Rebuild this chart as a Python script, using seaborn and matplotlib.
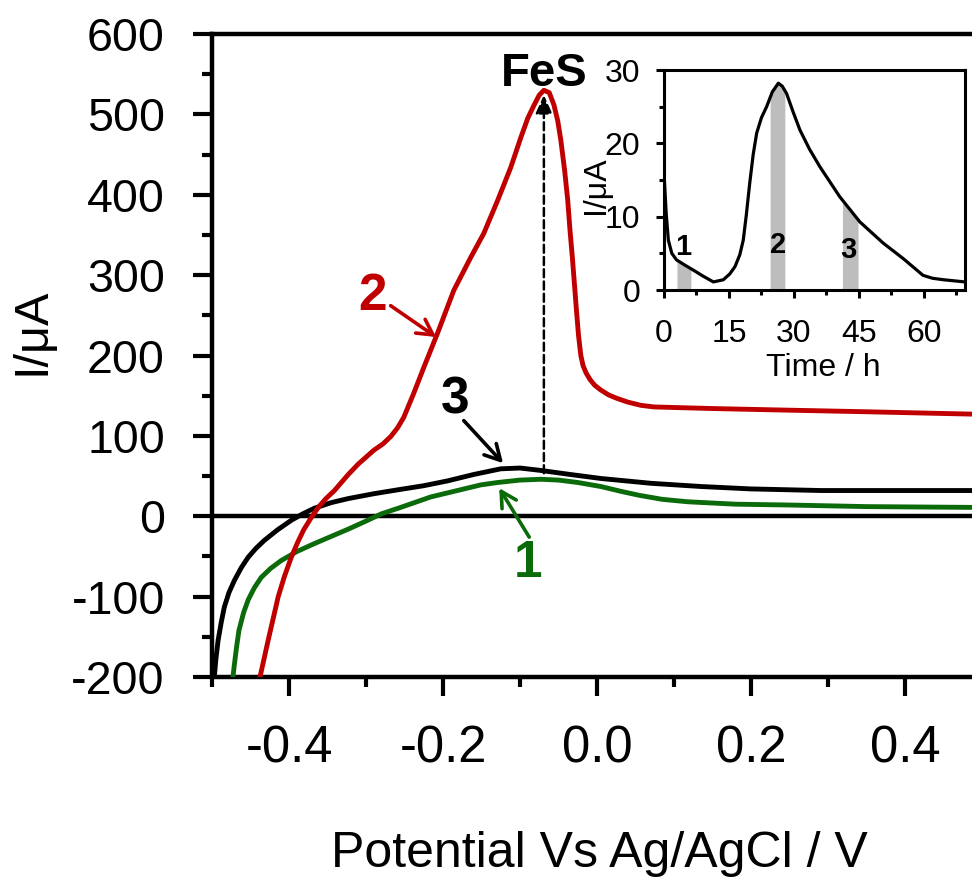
import numpy as np
import pandas as pd
import matplotlib
matplotlib.use("Agg")
import matplotlib.pyplot as plt
from matplotlib.ticker import MultipleLocator, FormatStrFormatter
import seaborn as sns

# ---------------- data ----------------
# scan 1 (green)
v_scan1 = [-0.474, -0.471, -0.468, -0.465, -0.459, -0.453, -0.445, -0.436, -0.424, -0.410,
           -0.390, -0.367, -0.345, -0.323, -0.300, -0.280, -0.255, -0.216, -0.190, -0.151,
           -0.129, -0.100, -0.073, -0.050, -0.025, 0.005, 0.031, 0.055, 0.085, 0.118,
           0.180, 0.248, 0.350, 0.490]
i_scan1 = [-210, -185, -162, -142, -120, -104, -89, -76, -65, -55,
           -44, -34, -25, -16, -6, 3, 11, 24, 30, 39,
           42, 45, 46, 45, 42, 37, 31, 26, 21, 18,
           15, 14, 12, 11]

# scan 2 (red)
v_scan2 = [-0.440, -0.433, -0.427, -0.420, -0.414, -0.406, -0.397, -0.389, -0.381, -0.372,
           -0.362, -0.352, -0.341, -0.323, -0.310, -0.290, -0.278, -0.268, -0.259, -0.251,
           -0.238, -0.225, -0.207, -0.186, -0.164, -0.147, -0.129, -0.112, -0.099, -0.090,
           -0.082, -0.075, -0.069, -0.062, -0.056, -0.051, -0.047, -0.042, -0.038, -0.035,
           -0.032, -0.029, -0.027, -0.024, -0.021, -0.018, -0.014, -0.009, -0.003, 0.005,
           0.015, 0.025, 0.040, 0.057, 0.074, 0.150, 0.248, 0.350, 0.490]
i_scan2 = [-210, -180, -154, -125, -100, -75, -51, -33, -17, -3,
           11, 22, 32, 52, 65, 82, 90, 99, 110, 123,
           153, 185, 228, 281, 322, 352, 393, 434, 471, 495,
           511, 524, 530, 527, 512, 492, 468, 430, 393, 355,
           322, 285, 260, 225, 200, 187, 178, 170, 163, 157,
           151, 147, 142, 138, 136, 134, 132, 130, 127]

# scan 3 (black)
v_scan3 = [-0.4985, -0.497, -0.495, -0.492, -0.488, -0.484, -0.478, -0.471, -0.462, -0.453,
           -0.443, -0.432, -0.415, -0.397, -0.382, -0.367, -0.345, -0.323, -0.290, -0.258,
           -0.225, -0.194, -0.160, -0.140, -0.125, -0.100, -0.073, -0.035, 0.005, 0.070,
           0.135, 0.200, 0.291, 0.400, 0.490]
i_scan3 = [-210, -200, -178, -154, -132, -113, -95, -80, -64, -51,
           -40, -30, -17, -5, 3, 10, 17, 22, 28, 33,
           38, 44, 52, 56, 59, 60, 57, 52, 47, 41,
           37, 34, 32, 32, 32]

# inset: current vs time
t_inset = [0, 0.5, 1.0, 1.8, 2.9, 4.8, 6.8, 9.0, 11.4, 13.7, 15.2, 16.4, 17.5, 18.3, 19.0,
           19.8, 20.6, 21.4, 22.5, 23.7, 25.0, 26.4, 27.3, 28.3, 29.8, 31.4, 33.6, 36.0,
           40.6, 45.2, 50.6, 55.2, 59.8, 62.0, 64.5, 69.5]
i_inset = [16, 10.5, 6.8, 5.0, 4.1, 3.4, 2.7, 1.9, 1.1, 1.4, 2.2, 3.2, 4.8, 6.8, 10.2,
           14.6, 18.5, 21.4, 23.5, 25.0, 27.0, 28.2, 27.8, 26.8, 24.3, 21.8, 19.2, 16.8,
           12.7, 9.3, 6.4, 4.3, 2.0, 1.6, 1.4, 1.1]
shade_windows = [(3.0, 6.2), (24.5, 27.9), (41.2, 44.8)]
shade_labels = ["1", "2", "3"]
shade_label_pos = [(4.4, 4.8), (26.3, 5.0), (42.5, 4.4)]

x_major = [-0.4, -0.2, 0.0, 0.2, 0.4]

# ---------------- style ----------------
sns.set_theme(style="ticks")
plt.rcParams["font.family"] = ["Liberation Sans", "DejaVu Sans"]
plt.rcParams["axes.unicode_minus"] = False
for k in ["text.color", "axes.labelcolor", "xtick.color", "ytick.color", "axes.edgecolor"]:
    plt.rcParams[k] = "black"

RED = "#c00000"
GREEN = "#0b6b0b"
W, H = 972, 880

fig = plt.figure(figsize=(9.72, 8.8), dpi=100)
fig.patch.set_facecolor("white")

def fx(px):
    return px / W

def fy(py):
    return 1 - py / H

ax = fig.add_axes([fx(212), fy(677), 1 - fx(212), (677 - 34) / H])
ax.set_facecolor("white")

df = pd.concat([
    pd.DataFrame({"V": v_scan1, "I": i_scan1, "scan": "1"}),
    pd.DataFrame({"V": v_scan3, "I": i_scan3, "scan": "3"}),
    pd.DataFrame({"V": v_scan2, "I": i_scan2, "scan": "2"}),
])

ax.axhline(0, color="black", lw=3.2, zorder=1.5)
sns.lineplot(data=df, x="V", y="I", hue="scan", hue_order=["1", "3", "2"],
             palette={"1": GREEN, "3": "black", "2": RED},
             sort=False, estimator=None, linewidth=3.5, legend=False, ax=ax, zorder=3)
for ln in ax.lines:
    ln.set_solid_joinstyle("round")
    ln.set_solid_capstyle("round")

ax.set_xlim(-0.5, -0.5 + 760 / 770)
ax.set_ylim(-200, 600)
ax.set_xlabel("")
ax.set_ylabel("")
ax.xaxis.set_major_locator(plt.FixedLocator(x_major))
ax.xaxis.set_minor_locator(MultipleLocator(0.1))
ax.yaxis.set_major_locator(MultipleLocator(100))
ax.yaxis.set_minor_locator(MultipleLocator(50))
ax.xaxis.set_major_formatter(FormatStrFormatter("%.1f"))
ax.yaxis.set_major_formatter(FormatStrFormatter("%d"))
for s in ["left", "bottom", "top"]:
    ax.spines[s].set_linewidth(3.2)
    ax.spines[s].set_color("black")
ax.spines["right"].set_visible(False)
ax.tick_params(which="both", direction="out", top=False, right=False, color="black", width=3.0,
               labelcolor="black")
ax.tick_params(which="major", length=14)
ax.tick_params(which="minor", length=7)
ax.tick_params(axis="x", which="major", labelsize=36.5, pad=20)
ax.tick_params(axis="y", which="major", labelsize=33.5, pad=20)

fig.text(fx(32), fy(331), "I/μA", rotation=90, ha="center", va="center", fontsize=35, color="black")
fig.text(fx(599), fy(867), "Potential Vs Ag/AgCl / V", ha="center", va="baseline", fontsize=36,
         color="black")

# annotations
ax.text(-0.069, 535, "FeS", ha="center", va="baseline", fontsize=34, fontweight="bold", color="black")
ax.annotate("", xy=(-0.069, 524), xytext=(-0.069, 53.5),
            arrowprops=dict(arrowstyle="-|>,head_length=0.55,head_width=0.25",
                            mutation_scale=20, lw=1.8, ls=(0, (3.2, 1.7)),
                            color="black", fc="black", shrinkA=0, shrinkB=0))

ax.text(-0.291, 256, "2", color=RED, ha="center", va="baseline", fontsize=37, fontweight="bold")
ax.annotate("", xy=(-0.209, 223), xytext=(-0.268, 262),
            arrowprops=dict(arrowstyle="->,head_length=0.55,head_width=0.3",
                            mutation_scale=20, lw=2.6, color=RED, shrinkA=0, shrinkB=0))
ax.text(-0.184, 128, "3", color="black", ha="center", va="baseline", fontsize=37, fontweight="bold")
ax.annotate("", xy=(-0.122, 66), xytext=(-0.173, 119),
            arrowprops=dict(arrowstyle="->,head_length=0.55,head_width=0.3",
                            mutation_scale=20, lw=2.6, color="black", shrinkA=0, shrinkB=0))
ax.text(-0.090, -76, "1", color=GREEN, ha="center", va="baseline", fontsize=37, fontweight="bold")
ax.annotate("", xy=(-0.127, 35), xytext=(-0.088, -26),
            arrowprops=dict(arrowstyle="->,head_length=0.55,head_width=0.3",
                            mutation_scale=20, lw=2.6, color=GREEN, shrinkA=0, shrinkB=0))

# ---------------- inset ----------------
axin = fig.add_axes([fx(664), fy(290), 301 / W, 220 / H])
axin.set_facecolor("white")
t_arr = np.asarray(t_inset)
i_arr = np.asarray(i_inset)
for lo, hi in shade_windows:
    tt = np.linspace(lo, hi, 40)
    axin.fill_between(tt, 0, np.interp(tt, t_arr, i_arr), color="#bdbdbd", lw=0, zorder=1)
sns.lineplot(x=t_inset, y=i_inset, sort=False, estimator=None, color="black", linewidth=2.3,
             ax=axin, zorder=3)
for ln in axin.lines:
    ln.set_solid_joinstyle("round")
for lab, (tx, ty) in zip(shade_labels, shade_label_pos):
    axin.text(tx, ty, lab, ha="center", va="baseline", fontsize=21, fontweight="bold",
              color="black", zorder=4)

axin.set_xlim(0, 69.5)
axin.set_ylim(0, 30)
axin.xaxis.set_major_locator(MultipleLocator(15))
axin.xaxis.set_minor_locator(MultipleLocator(7.5))
axin.yaxis.set_major_locator(MultipleLocator(10))
axin.yaxis.set_minor_locator(MultipleLocator(5))
for s in axin.spines.values():
    s.set_linewidth(2.2)
    s.set_color("black")
axin.tick_params(which="both", direction="out", color="black", width=2.2, labelcolor="black")
axin.tick_params(which="major", length=6)
axin.tick_params(which="minor", length=3.5)
axin.tick_params(axis="x", which="major", labelsize=23, pad=15)
axin.tick_params(axis="y", which="major", labelsize=23, pad=11)
axin.set_xlabel("")
axin.set_ylabel("")
fig.text(fx(596), fy(185), "I/μA", rotation=90, ha="center", va="center", fontsize=23, color="black")
fig.text(fx(823), fy(376), "Time / h", ha="center", va="baseline", fontsize=23, color="black")

fig.savefig("out.png", dpi=100, facecolor="white")
